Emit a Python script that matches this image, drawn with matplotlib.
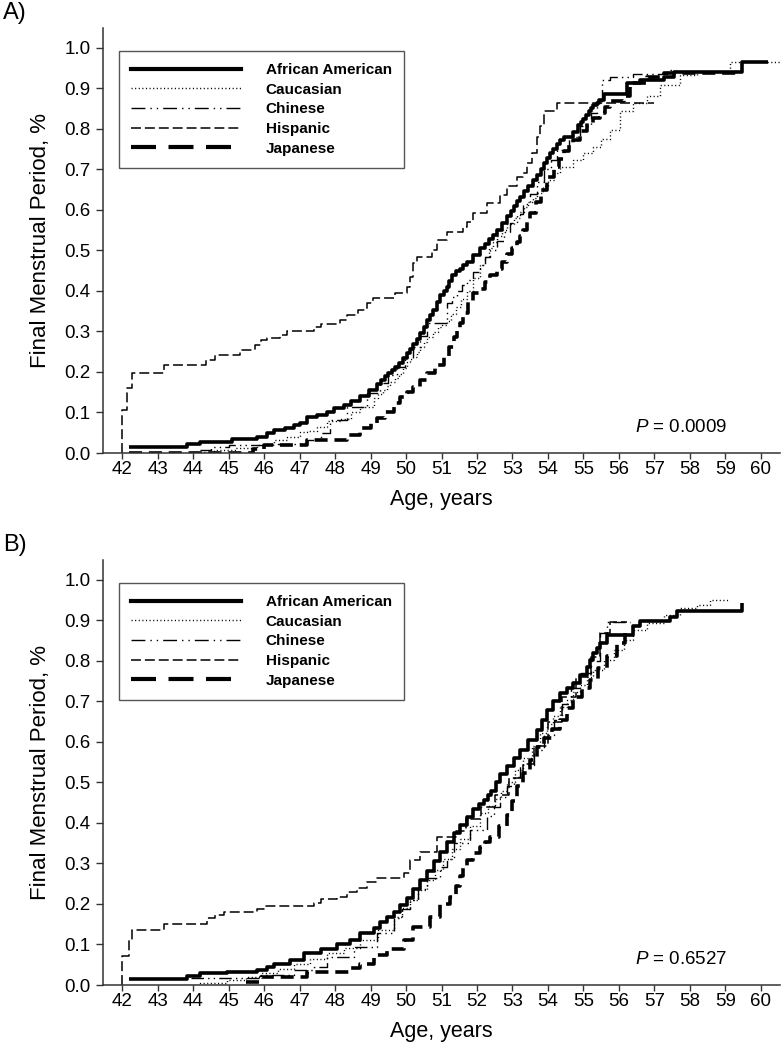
import numpy as np
import matplotlib.pyplot as plt
from matplotlib.lines import Line2D
from matplotlib.ticker import FormatStrFormatter

plt.rcParams['font.family'] = ['Liberation Sans', 'DejaVu Sans']
plt.rcParams['mathtext.fontset'] = 'custom'
plt.rcParams['mathtext.it'] = 'Liberation Sans:italic'
plt.rcParams['mathtext.rm'] = 'Liberation Sans'

groups = ['African American', 'Caucasian', 'Chinese', 'Hispanic', 'Japanese']
age_ticks = list(range(42, 61))
fmp_ticks = [0.0, 0.1, 0.2, 0.3, 0.4, 0.5, 0.6, 0.7, 0.8, 0.9, 1.0]

# ---- Panel A: cumulative proportion reaching FMP ----
aa_a_age = [42.19, 43.83, 44.20, 45.10, 45.80, 46.08, 46.27, 46.60, 46.83, 47.02, 47.21, 47.50,
            47.77, 47.96, 48.24, 48.45, 48.71, 48.95, 49.18, 49.30, 49.40, 49.50, 49.60, 49.70,
            49.80, 49.92, 50.03, 50.12, 50.21, 50.30, 50.40, 50.50, 50.59, 50.67, 50.75, 50.86,
            50.97, 51.06, 51.15, 51.22, 51.30, 51.42, 51.53, 51.62, 51.72, 51.90, 52.09, 52.22,
            52.35, 52.45, 52.56, 52.70, 52.85, 52.95, 53.05, 53.14, 53.22, 53.33, 53.45, 53.57,
            53.69, 53.80, 53.90, 53.98, 54.06, 54.15, 54.25, 54.35, 54.44, 54.72, 54.85, 54.93,
            55.00, 55.08, 55.15, 55.22, 55.28, 55.37, 55.45, 55.57, 56.23, 56.60, 57.26, 57.54,
            59.46, 60.21]
aa_a_fmp = [0.016, 0.021, 0.028, 0.034, 0.040, 0.049, 0.057, 0.062, 0.069, 0.075, 0.088, 0.095,
            0.102, 0.110, 0.118, 0.128, 0.140, 0.155, 0.170, 0.180, 0.190, 0.197, 0.205, 0.213,
            0.222, 0.234, 0.246, 0.256, 0.268, 0.282, 0.296, 0.312, 0.328, 0.340, 0.352, 0.372,
            0.390, 0.400, 0.410, 0.425, 0.440, 0.448, 0.455, 0.463, 0.472, 0.488, 0.505, 0.516,
            0.528, 0.539, 0.550, 0.568, 0.585, 0.598, 0.610, 0.621, 0.632, 0.646, 0.660, 0.673,
            0.686, 0.700, 0.715, 0.727, 0.740, 0.751, 0.762, 0.772, 0.781, 0.792, 0.810, 0.818,
            0.825, 0.835, 0.845, 0.852, 0.858, 0.865, 0.872, 0.886, 0.913, 0.921, 0.929, 0.941,
            0.966, 0.966]

cau_a_age = [44.00, 44.60, 45.20, 45.80, 46.27, 46.65, 47.02, 47.21, 47.50, 47.77, 48.15, 48.45,
             48.71, 49.09, 49.22, 49.35, 49.45, 49.56, 49.68, 49.80, 49.92, 50.03, 50.12, 50.21,
             50.30, 50.40, 50.50, 50.59, 50.75, 50.90, 51.02, 51.15, 51.28, 51.40, 51.56, 51.72,
             51.90, 52.09, 52.22, 52.35, 52.45, 52.56, 52.70, 52.85, 53.03, 53.22, 53.33, 53.45,
             53.57, 53.69, 53.85, 54.00, 54.17, 54.34, 54.72, 55.00, 55.28, 55.50, 55.75, 56.03,
             56.41, 56.79, 57.16, 57.73, 58.20, 59.14, 60.54]
cau_a_fmp = [0.003, 0.007, 0.012, 0.020, 0.032, 0.040, 0.052, 0.055, 0.065, 0.078, 0.085, 0.100,
             0.114, 0.135, 0.145, 0.155, 0.165, 0.175, 0.185, 0.195, 0.210, 0.225, 0.231, 0.238,
             0.250, 0.262, 0.275, 0.287, 0.298, 0.310, 0.317, 0.325, 0.342, 0.360, 0.380, 0.400,
             0.432, 0.465, 0.485, 0.505, 0.520, 0.535, 0.550, 0.565, 0.580, 0.595, 0.607, 0.620,
             0.630, 0.641, 0.658, 0.675, 0.691, 0.707, 0.723, 0.740, 0.756, 0.775, 0.798, 0.843,
             0.864, 0.880, 0.909, 0.933, 0.941, 0.964, 0.964]

chi_a_age = [44.20, 44.50, 45.00, 46.00, 47.00, 47.21, 47.60, 47.87, 48.34, 48.90, 49.28, 49.50,
             49.75, 49.98, 50.21, 50.40, 50.59, 51.15, 51.30, 51.44, 51.58, 51.72, 51.90, 52.09,
             52.23, 52.37, 52.56, 52.75, 52.94, 53.13, 53.31, 53.50, 53.70, 53.90, 54.08, 54.25,
             54.60, 54.90, 55.20, 55.38, 55.52, 55.75, 56.41, 57.35, 57.60]
chi_a_fmp = [0.008, 0.015, 0.020, 0.022, 0.025, 0.032, 0.049, 0.081, 0.114, 0.147, 0.172, 0.192,
             0.213, 0.238, 0.262, 0.290, 0.320, 0.370, 0.385, 0.400, 0.414, 0.427, 0.446, 0.465,
             0.483, 0.501, 0.523, 0.545, 0.568, 0.590, 0.615, 0.640, 0.670, 0.700, 0.724, 0.748,
             0.780, 0.806, 0.840, 0.868, 0.921, 0.928, 0.935, 0.946, 0.946]

his_a_age = [42.00, 42.00, 42.14, 42.28, 43.17, 44.35, 44.63, 45.33, 45.75, 45.90, 46.08, 46.46,
             46.65, 47.40, 47.59, 48.15, 48.33, 48.66, 48.90, 49.08, 49.70, 50.03, 50.12, 50.20,
             50.30, 50.73, 50.87, 51.15, 51.62, 51.72, 51.90, 52.28, 52.66, 52.85, 53.13, 53.31,
             53.41, 53.55, 53.69, 53.78, 53.88, 54.25, 57.00]
his_a_fmp = [0.000, 0.106, 0.160, 0.198, 0.217, 0.230, 0.242, 0.254, 0.267, 0.279, 0.284, 0.291,
             0.300, 0.312, 0.318, 0.328, 0.340, 0.353, 0.370, 0.383, 0.395, 0.410, 0.435, 0.469,
             0.484, 0.501, 0.526, 0.546, 0.559, 0.571, 0.592, 0.617, 0.637, 0.658, 0.682, 0.690,
             0.715, 0.740, 0.781, 0.806, 0.843, 0.865, 0.865]

jap_a_age = [42.20, 45.70, 46.00, 47.21, 48.34, 48.71, 49.00, 49.18, 49.40, 49.65, 49.84, 50.03,
             50.21, 50.40, 50.59, 50.82, 51.06, 51.20, 51.34, 51.45, 51.53, 51.62, 51.76, 51.90,
             52.09, 52.23, 52.37, 52.56, 52.70, 52.85, 52.99, 53.13, 53.22, 53.31, 53.40, 53.50,
             53.65, 53.80, 53.98, 54.16, 54.30, 54.45, 54.58, 54.72, 54.90, 55.09, 55.28, 55.47,
             55.60, 55.75, 56.13, 56.32, 56.79, 57.26, 59.37]
jap_a_fmp = [0.000, 0.010, 0.020, 0.032, 0.044, 0.061, 0.075, 0.086, 0.100, 0.123, 0.137, 0.150,
             0.164, 0.180, 0.197, 0.218, 0.238, 0.262, 0.287, 0.305, 0.320, 0.345, 0.372, 0.395,
             0.405, 0.422, 0.440, 0.455, 0.472, 0.490, 0.505, 0.520, 0.535, 0.551, 0.570, 0.592,
             0.620, 0.650, 0.680, 0.707, 0.726, 0.745, 0.760, 0.773, 0.795, 0.814, 0.826, 0.839,
             0.853, 0.868, 0.880, 0.913, 0.929, 0.939, 0.939]

# ---- Panel B ----
aa_b_age = [42.19, 43.83, 44.20, 44.96, 45.80, 46.08, 46.27, 46.74, 47.12, 47.59, 48.06, 48.43,
            48.71, 49.09, 49.28, 49.46, 49.65, 49.84, 50.03, 50.21, 50.40, 50.59, 50.78, 50.97,
            51.15, 51.34, 51.53, 51.72, 51.90, 52.05, 52.19, 52.30, 52.40, 52.53, 52.66, 52.85,
            53.03, 53.22, 53.45, 53.69, 53.83, 53.97, 54.15, 54.34, 54.53, 54.72, 54.90, 55.09,
            55.18, 55.28, 55.37, 55.47, 55.66, 56.41, 56.60, 57.45, 57.63, 59.46]
aa_b_fmp = [0.016, 0.022, 0.029, 0.033, 0.036, 0.045, 0.053, 0.062, 0.080, 0.090, 0.100, 0.111,
            0.128, 0.140, 0.156, 0.168, 0.180, 0.197, 0.215, 0.237, 0.260, 0.282, 0.305, 0.328,
            0.352, 0.374, 0.395, 0.415, 0.435, 0.446, 0.457, 0.468, 0.480, 0.500, 0.520, 0.540,
            0.560, 0.580, 0.605, 0.630, 0.655, 0.679, 0.700, 0.720, 0.733, 0.745, 0.765, 0.786,
            0.803, 0.819, 0.832, 0.844, 0.864, 0.885, 0.899, 0.909, 0.922, 0.944]

cau_b_age = [43.83, 44.20, 44.96, 45.50, 45.90, 46.40, 46.83, 47.30, 47.77, 48.25, 48.71, 49.20,
             49.65, 49.88, 50.10, 50.35, 50.59, 50.82, 51.05, 51.29, 51.53, 51.81, 52.09, 52.30,
             52.50, 52.68, 52.85, 53.08, 53.30, 53.54, 53.78, 53.97, 54.15, 54.34, 54.53, 54.72,
             54.90, 55.09, 55.28, 55.57, 55.85, 56.13, 56.41, 56.79, 57.26, 57.73, 58.20, 58.57,
             59.09]
cau_b_fmp = [0.000, 0.004, 0.012, 0.020, 0.029, 0.040, 0.053, 0.065, 0.078, 0.092, 0.111, 0.135,
             0.169, 0.190, 0.210, 0.235, 0.259, 0.285, 0.310, 0.335, 0.360, 0.392, 0.424, 0.442,
             0.460, 0.480, 0.500, 0.530, 0.560, 0.590, 0.621, 0.643, 0.665, 0.685, 0.704, 0.722,
             0.740, 0.759, 0.778, 0.803, 0.827, 0.852, 0.877, 0.893, 0.914, 0.930, 0.938, 0.951,
             0.951]

chi_b_age = [43.93, 45.90, 46.83, 47.40, 47.77, 48.52, 49.18, 49.65, 49.88, 50.10, 50.35, 50.60,
             50.97, 51.15, 51.34, 51.81, 52.28, 52.47, 52.66, 52.85, 53.03, 53.22, 53.60, 53.88,
             54.16, 54.40, 54.65, 54.90, 55.20, 55.47, 55.66, 56.32]
chi_b_fmp = [0.017, 0.025, 0.037, 0.045, 0.070, 0.095, 0.128, 0.165, 0.188, 0.210, 0.238, 0.265,
             0.292, 0.310, 0.350, 0.383, 0.416, 0.440, 0.465, 0.490, 0.514, 0.543, 0.580, 0.617,
             0.654, 0.693, 0.732, 0.770, 0.800, 0.868, 0.897, 0.897]

his_b_age = [42.00, 42.00, 42.19, 42.28, 43.17, 44.39, 44.63, 44.86, 45.80, 45.99, 47.40, 47.59,
             48.06, 48.34, 48.62, 48.90, 49.14, 49.93, 50.12, 50.40, 50.87, 51.40, 51.70, 52.10,
             52.50, 52.90, 53.30, 53.60, 54.00, 54.40, 54.80, 55.20, 55.47, 55.75, 56.23]
his_b_fmp = [0.000, 0.072, 0.111, 0.136, 0.151, 0.165, 0.173, 0.179, 0.187, 0.195, 0.203, 0.212,
             0.218, 0.230, 0.239, 0.253, 0.263, 0.276, 0.309, 0.329, 0.366, 0.380, 0.410, 0.440,
             0.470, 0.510, 0.545, 0.590, 0.650, 0.710, 0.760, 0.810, 0.868, 0.897, 0.897]

jap_b_age = [45.50, 45.90, 47.20, 48.43, 48.71, 49.09, 49.46, 49.93, 50.21, 50.68, 50.97, 51.25,
             51.40, 51.53, 51.62, 51.72, 51.90, 52.09, 52.23, 52.37, 52.61, 52.85, 52.99, 53.13,
             53.31, 53.50, 53.69, 53.90, 54.12, 54.34, 54.53, 54.72, 54.95, 55.19, 55.42, 55.66,
             55.94, 56.18, 56.30]
jap_b_fmp = [0.008, 0.020, 0.033, 0.041, 0.053, 0.075, 0.090, 0.111, 0.144, 0.169, 0.200, 0.218,
             0.245, 0.270, 0.290, 0.309, 0.325, 0.341, 0.353, 0.366, 0.393, 0.420, 0.455, 0.490,
             0.523, 0.555, 0.588, 0.610, 0.632, 0.654, 0.683, 0.712, 0.732, 0.753, 0.782, 0.811,
             0.844, 0.868, 0.868]

curves_a = [(aa_a_age, aa_a_fmp), (cau_a_age, cau_a_fmp), (chi_a_age, chi_a_fmp),
            (his_a_age, his_a_fmp), (jap_a_age, jap_a_fmp)]
curves_b = [(aa_b_age, aa_b_fmp), (cau_b_age, cau_b_fmp), (chi_b_age, chi_b_fmp),
            (his_b_age, his_b_fmp), (jap_b_age, jap_b_fmp)]

# line look in the plot and in the legend
plot_styles = {
    'African American': dict(lw=2.6, ls='-'),
    'Caucasian': dict(lw=1.0, ls=(0, (0.8, 1.8))),
    'Chinese': dict(lw=1.0, ls=(0, (9, 3, 1, 3, 1, 3))),
    'Hispanic': dict(lw=1.1, ls=(0, (6.5, 2.6))),
    'Japanese': dict(lw=2.6, ls=(0, (3.6, 1.9))),
}
legend_styles = {
    'African American': dict(lw=3.0, ls='-'),
    'Caucasian': dict(lw=1.0, ls=(0, (0.8, 1.8))),
    'Chinese': dict(lw=1.0, ls=(0, (10, 3.6, 1, 3.6, 1, 3.6))),
    'Hispanic': dict(lw=1.1, ls=(0, (6.5, 2.6))),
    'Japanese': dict(lw=3.0, ls=(0, (6, 3))),
}


def draw_panel(ax, curves, p_text):
    for name, (age, fmp) in zip(groups, curves):
        ax.step(age, fmp, where='post', color='black', solid_capstyle='butt',
                **plot_styles[name])

    ax.set_xlim(41.46, 60.54)
    ax.set_ylim(0, 1.049)
    ax.set_xticks(age_ticks)
    ax.set_yticks(fmp_ticks)
    ax.yaxis.set_major_formatter(FormatStrFormatter('%.1f'))
    for s in ['top', 'right']:
        ax.spines[s].set_visible(False)
    for s in ['left', 'bottom']:
        ax.spines[s].set_color('#333333')
        ax.spines[s].set_linewidth(1.1)
    ax.tick_params(axis='x', direction='out', length=4.5, width=1, color='#333333',
                   labelsize=13.5, pad=1)
    ax.tick_params(axis='y', direction='out', length=5, width=1, color='#333333',
                   labelsize=13.5, pad=4)

    ax.set_xlabel('Age, years', fontsize=15.5)
    ax.set_ylabel('Final Menstrual Period, %', fontsize=16)
    ax.xaxis.set_label_coords(0.5, -0.085)
    ax.yaxis.set_label_coords(-0.077, 0.5)

    handles = [Line2D([], [], color='black', **legend_styles[n]) for n in groups]
    leg = ax.legend(handles, groups, loc='upper left', bbox_to_anchor=(0.0236, 0.946),
                    borderaxespad=0, fancybox=False, edgecolor='#555555', framealpha=1,
                    handlelength=7.2, handletextpad=1.6, labelspacing=0.37, borderpad=0.8,
                    prop={'weight': 'bold', 'size': 11})
    leg.get_frame().set_linewidth(1.0)

    ax.text(0.9217, 0.061, p_text, transform=ax.transAxes, ha='right', va='center',
            fontsize=13.5)


fig = plt.figure(figsize=(7.82, 10.51), dpi=100)
ax_a = fig.add_axes([103 / 782, 1 - 453 / 1051, 677 / 782, 425 / 1051])
ax_b = fig.add_axes([103 / 782, 1 - 985 / 1051, 677 / 782, 425 / 1051])

draw_panel(ax_a, curves_a, r'$P$ = 0.0009')
draw_panel(ax_b, curves_b, r'$P$ = 0.6527')

fig.text(3 / 782, 1 - 13.5 / 1051, 'A)', fontsize=17, va='center', ha='left')
fig.text(3 / 782, 1 - 545 / 1051, 'B)', fontsize=17, va='center', ha='left')

fig.savefig('out.png', dpi=100)
